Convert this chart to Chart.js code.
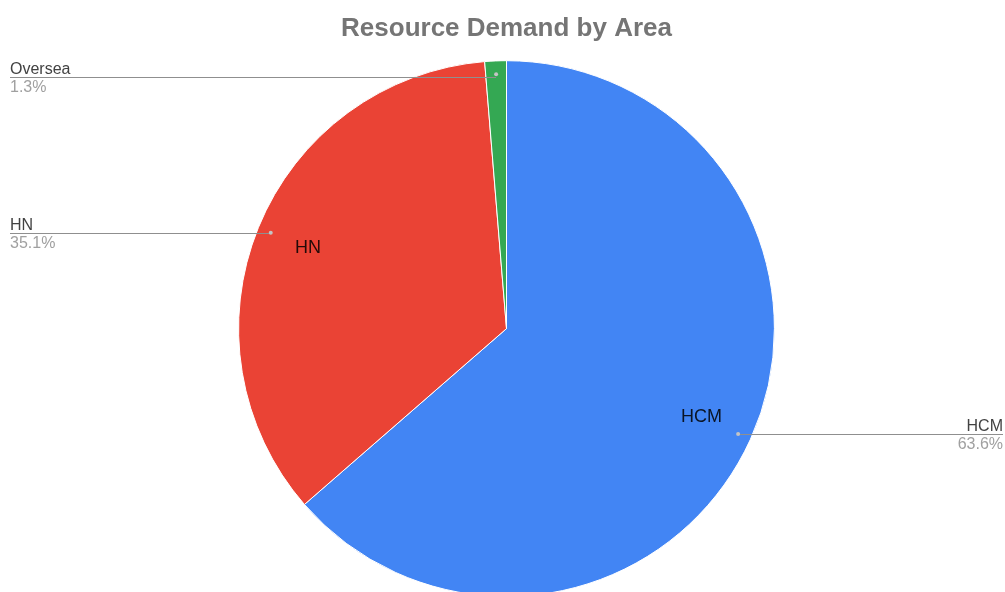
<!DOCTYPE html>
<html>
<head>
<meta charset="utf-8">
<title>Resource Demand by Area</title>
<script src="https://cdn.jsdelivr.net/npm/chart.js@4/dist/chart.umd.min.js"></script>
<style>
  html, body { margin: 0; padding: 0; background: #fff; overflow: hidden; }
  #wrap { width: 1005px; height: 592px; overflow: hidden; }
</style>
</head>
<body>
<div id="wrap"><canvas id="areaPie" width="1005" height="600"></canvas></div>
<script>
// demand share per area, in percent
const areas = ['HCM', 'HN', 'Oversea']
const demandShare = [63.6, 35.1, 1.3]
const sliceColors = ['#4285f4', '#ea4335', '#34a853']

const FONT = '"Liberation Sans", Arial, sans-serif'

// slice names inside the pie + leader lines out to the side labels
const sideLabels = {
  id: 'sideLabels',
  afterDatasetsDraw(chart) {
    const ctx = chart.ctx
    const total = demandShare.reduce((a, b) => a + b, 0)
    const arcs = chart.getDatasetMeta(0).data
    ctx.save()
    arcs.forEach((arc, i) => {
      const {x, y, startAngle, endAngle, outerRadius} =
        arc.getProps(['x', 'y', 'startAngle', 'endAngle', 'outerRadius'])
      const mid = (startAngle + endAngle) / 2
      const share = demandShare[i] / total
      const pct = (share * 100).toFixed(1) + '%'

      if (share > 0.05) {
        ctx.font = '18px ' + FONT
        ctx.fillStyle = 'rgba(0,0,0,0.85)'
        ctx.textAlign = 'center'
        ctx.textBaseline = 'middle'
        ctx.fillText(areas[i], x + Math.cos(mid) * outerRadius * 0.8, y + Math.sin(mid) * outerRadius * 0.8)
      }

      const dotX = x + Math.cos(mid) * outerRadius * 0.95
      const dotY = y + Math.sin(mid) * outerRadius * 0.95
      // tiny slices near the top: keep the line clear of the pie edge
      const lineY = Math.round(Math.max(dotY, y - outerRadius + 16))
      const onRight = Math.cos(mid) > 0
      const endX = onRight ? chart.width - 2 : 10

      ctx.strokeStyle = '#8f8f8f'
      ctx.lineWidth = 1
      ctx.beginPath()
      ctx.moveTo(dotX, lineY + 0.5)
      ctx.lineTo(endX, lineY + 0.5)
      ctx.stroke()

      ctx.fillStyle = '#c4c4c4'
      ctx.beginPath()
      ctx.arc(dotX, dotY, 2, 0, Math.PI * 2)
      ctx.fill()

      ctx.textAlign = onRight ? 'right' : 'left'
      ctx.textBaseline = 'alphabetic'
      ctx.font = '16px ' + FONT
      ctx.fillStyle = '#424242'
      ctx.fillText(areas[i], endX, lineY - 3)
      ctx.fillStyle = '#a0a0a0'
      ctx.fillText(pct, endX, lineY + 15)
    })
    ctx.restore()
  }
}

new Chart(document.getElementById('areaPie'), {
  type: 'pie',
  data: {
    labels: areas,
    datasets: [{
      data: demandShare,
      backgroundColor: sliceColors,
      borderColor: '#ffffff',
      borderWidth: 1
    }]
  },
  options: {
    responsive: false,
    animation: false,
    layout: { padding: { left: 8, right: 0, top: 0, bottom: 3 } },
    plugins: {
      legend: { display: false },
      tooltip: { enabled: false },
      title: {
        display: true,
        text: 'Resource Demand by Area',
        color: '#757575',
        font: { family: FONT, size: 26, weight: 'bold' },
        padding: { top: 13, bottom: 16 }
      }
    }
  },
  plugins: [sideLabels]
})
</script>
</body>
</html>
